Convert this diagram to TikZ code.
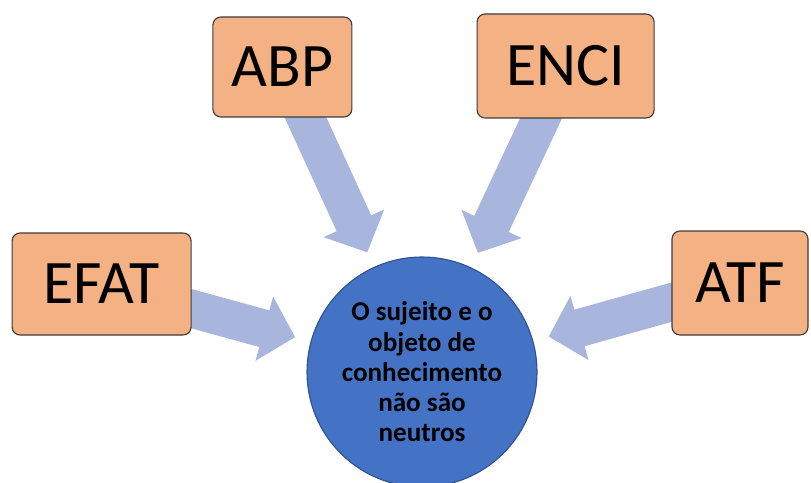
\documentclass[tikz,border=0pt]{standalone}
\usepackage{fontspec}
\setmainfont{Carlito}
\usetikzlibrary{arrows.meta,backgrounds}

\definecolor{boxfill}{RGB}{244,177,131}
\definecolor{boxline}{RGB}{60,60,60}
\definecolor{flowblue}{RGB}{168,182,222}
\definecolor{hubfill}{RGB}{68,114,196}
\definecolor{hubline}{RGB}{47,82,143}

\begin{document}
\begin{tikzpicture}[
    box/.style={draw=boxline, line width=0.8pt, fill=boxfill, rounded corners=0.2cm,
        inner sep=0pt, font=\fontsize{44}{44}\selectfont},
    hub/.style={circle, draw=hubline, line width=0.8pt, fill=hubfill, minimum size=5.75cm,
        align=center, font=\bfseries\fontsize{19.3}{21.5}\selectfont},
    flow/.style={draw=flowblue, line width=0.95cm,
        -{Triangle[width=1.62cm, length=0.8cm]}, shorten >=0.4cm}
]
\useasboundingbox (0,0) rectangle (20.275,-12.075);
\begin{scope}
    % Define nodes
    \draw (7.06, -1.675) node[box, minimum width=3.475cm, minimum height=2.5cm] (ABP) {ABP};
    \draw (14.14, -1.65) node[box, minimum width=4.425cm, minimum height=2.6cm] (ENCI) {ENCI};
    \draw (2.54, -7.1) node[box, minimum width=4.475cm, minimum height=2.55cm] (EFAT) {EFAT};
    \draw (18.5, -7.075) node[box, minimum width=3.4cm, minimum height=2.6cm] (ATF) {ATF};
    \draw (10.55, -9.3) node[hub] (C)
        {O sujeito e o\\objeto de\\conhecimento\\não são\\neutros};

    % Block arrows behind the boxes
    \begin{scope}[on background layer]
        \draw[flow] (ABP.center) -- (C);
        \draw[flow] (ENCI.center) -- (C);
        \draw[flow] (EFAT.center) -- (C);
        \draw[flow] (ATF.center) -- (C);
    \end{scope}
\end{scope}
\end{tikzpicture}
\end{document}
